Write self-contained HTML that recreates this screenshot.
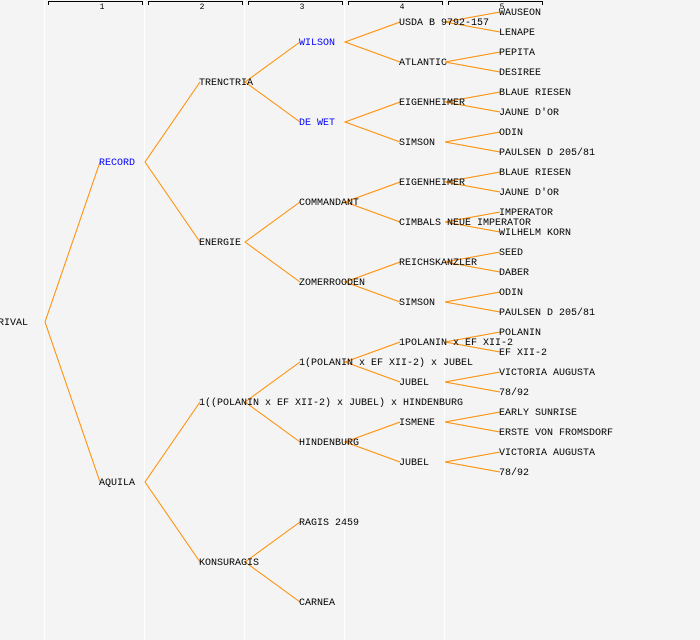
<!DOCTYPE html>
<html><head><meta charset="utf-8"><style>
html,body{margin:0;padding:0;background:#f4f4f4;}
svg{display:block}
text{font-family:"Liberation Mono",monospace;font-size:10px;fill:#000}
.b{fill:#0000ff}
</style></head><body>
<svg width="700" height="640" viewBox="0 0 700 640" xmlns="http://www.w3.org/2000/svg">
<rect width="700" height="640" fill="#f4f4f4"/>
<g stroke="#fff" stroke-width="1.2">
<line x1="44.5" y1="0" x2="44.5" y2="640"/><line x1="144.5" y1="0" x2="144.5" y2="640"/>
<line x1="244.5" y1="0" x2="244.5" y2="640"/><line x1="344.5" y1="0" x2="344.5" y2="640"/>
<line x1="444.5" y1="0" x2="444.5" y2="640"/>
</g>
<g stroke="#000" fill="none" stroke-width="1">
<path d="M48.5 5V1.5H142.5V5"/><path d="M148.5 5V1.5H242.5V5"/><path d="M248.5 5V1.5H342.5V5"/><path d="M348.5 5V1.5H442.5V5"/><path d="M448.5 5V1.5H542.5V5"/>
</g>
<g text-anchor="middle">
<text x="102" y="9" style="font-size:8px">1</text><text x="202" y="9" style="font-size:8px">2</text><text x="302" y="9" style="font-size:8px">3</text><text x="402" y="9" style="font-size:8px">4</text><text x="502" y="9" style="font-size:8px">5</text>
</g>
<g stroke="#ff8c00" stroke-width="1" fill="none">
<path d="M100 162L45 322L100 482"/>
<path d="M200 82L145 162L200 242"/><path d="M200 402L145 482L200 562"/>
<path d="M300 42L245 82L300 122"/><path d="M300 202L245 242L300 282"/><path d="M300 362L245 402L300 442"/><path d="M300 522L245 562L300 602"/>
<path d="M400 22L345 42L400 62"/><path d="M400 102L345 122L400 142"/><path d="M400 182L345 202L400 222"/><path d="M400 262L345 282L400 302"/><path d="M400 342L345 362L400 382"/><path d="M400 422L345 442L400 462"/>
<path d="M500 12L445 22L500 32"/><path d="M500 52L445 62L500 72"/><path d="M500 92L445 102L500 112"/><path d="M500 132L445 142L500 152"/><path d="M500 172L445 182L500 192"/><path d="M500 212L445 222L500 232"/><path d="M500 252L445 262L500 272"/><path d="M500 292L445 302L500 312"/><path d="M500 332L445 342L500 352"/><path d="M500 372L445 382L500 392"/><path d="M500 412L445 422L500 432"/><path d="M500 452L445 462L500 472"/>
</g>
<g transform="translate(0,-1)">
<text x="-2" y="326">RIVAL</text>
<text x="99" y="166" class="b">RECORD</text><text x="99" y="486">AQUILA</text>
<text x="199" y="86">TRENCTRIA</text><text x="199" y="246">ENERGIE</text><text x="199" y="406">1((POLANIN x EF XII-2) x JUBEL) x HINDENBURG</text><text x="199" y="566">KONSURAGIS</text>
<text x="299" y="46" class="b">WILSON</text><text x="299" y="126" class="b">DE WET</text><text x="299" y="206">COMMANDANT</text><text x="299" y="286">ZOMERROODEN</text><text x="299" y="366">1(POLANIN x EF XII-2) x JUBEL</text><text x="299" y="446">HINDENBURG</text><text x="299" y="526">RAGIS 2459</text><text x="299" y="606">CARNEA</text>
<text x="399" y="26">USDA B 9792-157</text><text x="399" y="66">ATLANTIC</text><text x="399" y="106">EIGENHEIMER</text><text x="399" y="146">SIMSON</text><text x="399" y="186">EIGENHEIMER</text><text x="399" y="226">CIMBALS NEUE IMPERATOR</text><text x="399" y="266">REICHSKANZLER</text><text x="399" y="306">SIMSON</text><text x="399" y="346">1POLANIN x EF XII-2</text><text x="399" y="386">JUBEL</text><text x="399" y="426">ISMENE</text><text x="399" y="466">JUBEL</text>
<text x="499" y="16">WAUSEON</text><text x="499" y="36">LENAPE</text><text x="499" y="56">PEPITA</text><text x="499" y="76">DESIREE</text><text x="499" y="96">BLAUE RIESEN</text><text x="499" y="116">JAUNE D'OR</text><text x="499" y="136">ODIN</text><text x="499" y="156">PAULSEN D 205/81</text><text x="499" y="176">BLAUE RIESEN</text><text x="499" y="196">JAUNE D'OR</text><text x="499" y="216">IMPERATOR</text><text x="499" y="236">WILHELM KORN</text><text x="499" y="256">SEED</text><text x="499" y="276">DABER</text><text x="499" y="296">ODIN</text><text x="499" y="316">PAULSEN D 205/81</text><text x="499" y="336">POLANIN</text><text x="499" y="356">EF XII-2</text><text x="499" y="376">VICTORIA AUGUSTA</text><text x="499" y="396">78/92</text><text x="499" y="416">EARLY SUNRISE</text><text x="499" y="436">ERSTE VON FROMSDORF</text><text x="499" y="456">VICTORIA AUGUSTA</text><text x="499" y="476">78/92</text>
</g>
</svg>
</body></html>
